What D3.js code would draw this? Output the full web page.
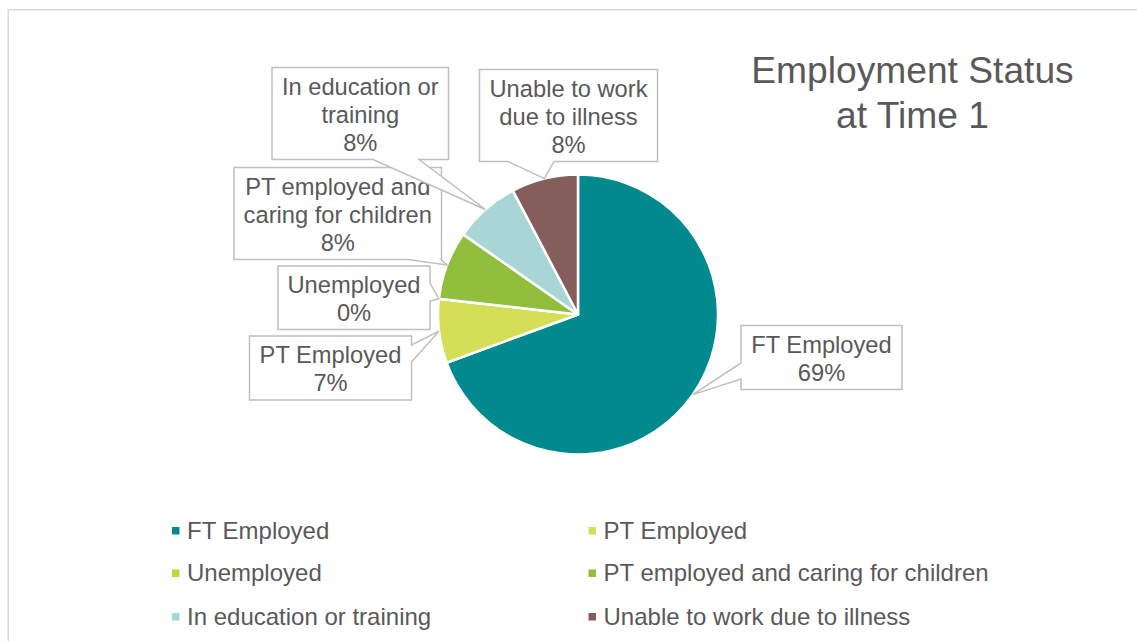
<!DOCTYPE html>
<html>
<head>
<meta charset="utf-8">
<script src="https://cdn.jsdelivr.net/npm/d3@7"></script>
<style>
  html, body { margin: 0; padding: 0; background: #ffffff; }
  svg { display: block; }
  text { font-family: "Liberation Sans", Arial, Helvetica, sans-serif; fill: #595959; }
</style>
</head>
<body>
<svg id="chart" width="1137" height="641"></svg>
<script>
// ---- data ----
const categories = ["FT Employed", "PT Employed", "Unemployed",
  "PT employed and caring for children", "In education or training", "Unable to work due to illness"];
const values = [69.4, 7.4, 0, 7.9, 7.6, 7.7];
const colors = ["#008A8E", "#D4DE56", "#BDD63A", "#92BE3D", "#A8D5D6", "#855D5B"];
const labelLines = [["FT Employed"], ["PT Employed"], ["Unemployed"],
  ["PT employed and", "caring for children"], ["In education or", "training"], ["Unable to work", "due to illness"]];
const titleLines = ["Employment Status", "at Time 1"];

// ---- layout (positions of label callouts, not data) ----
const callouts = [
  { x: 741,   y: 325.5, w: 161,   h: 64,   side: "left",   b: [379, 363] },
  { x: 249.5, y: 336,   w: 162,   h: 64,   side: "right",  b: [345, 362] },
  { x: 278,   y: 266,   w: 152,   h: 63.5, side: "right",  b: [283, 301] },
  { x: 234,   y: 167.5, w: 207.5, h: 92,   side: "bottom", b: [441, 408] },
  { x: 272,   y: 67.5,  w: 176.5, h: 92,   side: "bottom", b: [419, 373] },
  { x: 479.5, y: 69.5,  w: 178,   h: 92,   side: "bottom", b: [554, 508] }
];

const svg = d3.select("#chart");
const W = 1137, H = 641;

// chart area border
svg.append("rect")
  .attr("x", 8.2).attr("y", 9.8)
  .attr("width", W + 20).attr("height", H + 20)
  .attr("fill", "none").attr("stroke", "#d9d9d9").attr("stroke-width", 1.5);

// ---- pie ----
const cx = 578, cy = 314.5, R = 140;
const pie = d3.pie().sort(null).value(d => d).startAngle(0).endAngle(2 * Math.PI);
const arcs = pie(values);
const arc = d3.arc().innerRadius(0).outerRadius(R);

const g = svg.append("g").attr("transform", `translate(${cx},${cy})`);
g.selectAll("path.slice")
  .data(arcs)
  .join("path")
  .attr("class", "slice")
  .attr("d", arc)
  .attr("fill", (d, i) => colors[i])
  .attr("stroke", "#ffffff")
  .attr("stroke-width", 2.5)
  .attr("stroke-linejoin", "round");

// ---- callouts ----
function calloutPath(c, tip) {
  const x0 = c.x, y0 = c.y, x1 = c.x + c.w, y1 = c.y + c.h;
  const pts = [];
  pts.push([x0, y0]);
  if (c.side === "top") { pts.push([c.b[0], y0], tip, [c.b[1], y0]); }
  pts.push([x1, y0]);
  if (c.side === "right") { pts.push([x1, c.b[0]], tip, [x1, c.b[1]]); }
  pts.push([x1, y1]);
  if (c.side === "bottom") { pts.push([c.b[0], y1], tip, [c.b[1], y1]); }
  pts.push([x0, y1]);
  if (c.side === "left") { pts.push([x0, c.b[0]], tip, [x0, c.b[1]]); }
  return "M" + pts.map(p => p[0] + "," + p[1]).join("L") + "Z";
}

const fs = 23.7, lh = 28;
arcs.forEach((a, i) => {
  const c = callouts[i];
  const mid = (a.startAngle + a.endAngle) / 2;
  const tip = [cx + R * Math.sin(mid), cy - R * Math.cos(mid)];
  const grp = svg.append("g").attr("class", "callout");
  grp.append("path")
    .attr("d", calloutPath(c, tip))
    .attr("fill", "#ffffff")
    .attr("stroke", "#bfbfbf")
    .attr("stroke-width", 1.5)
    .attr("stroke-linejoin", "miter");
  const lines = labelLines[i].concat([Math.round(values[i]) + "%"]);
  const n = lines.length;
  const tx = c.x + c.w / 2, tc = c.y + c.h / 2;
  grp.selectAll("text")
    .data(lines)
    .join("text")
    .attr("x", tx)
    .attr("y", (d, k) => tc + (k - (n - 1) / 2) * lh + 9)
    .attr("text-anchor", "middle")
    .attr("font-size", fs)
    .text(d => d);
});

// ---- title ----
svg.append("g").selectAll("text")
  .data(titleLines)
  .join("text")
  .attr("x", 912.5)
  .attr("y", (d, i) => 82.5 + i * 45)
  .attr("text-anchor", "middle")
  .attr("font-size", 37.2)
  .text(d => d);

// ---- legend ----
const legCols = [172, 588.5], legRows = [538.5, 581, 624.5];
const leg = svg.append("g").selectAll("g")
  .data(categories)
  .join("g")
  .attr("transform", (d, i) => `translate(${legCols[i % 2]},${legRows[Math.floor(i / 2)]})`);
leg.append("rect")
  .attr("x", 0).attr("y", -11.5)
  .attr("width", 7.5).attr("height", 7.5)
  .attr("fill", (d, i) => colors[i]);
leg.append("text")
  .attr("x", 15).attr("y", 0)
  .attr("font-size", 24)
  .text(d => d);
</script>
</body>
</html>
